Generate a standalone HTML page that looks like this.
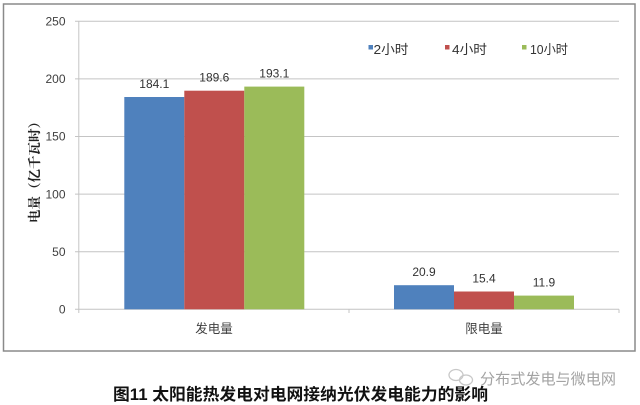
<!DOCTYPE html>
<html><head><meta charset="utf-8"><style>
html,body{margin:0;padding:0;background:#fff;}
svg{display:block;}
text{font-family:"Liberation Sans","Noto Sans CJK SC",sans-serif;}
</style></head><body>
<svg width="640" height="405" viewBox="0 0 640 405" xmlns="http://www.w3.org/2000/svg">
<rect x="0" y="0" width="640" height="405" fill="#fff"/>
<!-- frame -->
<rect x="3.5" y="4" width="631.5" height="347" fill="#fff" stroke="#8a8a8a" stroke-width="1.5"/>
<!-- gridlines -->
<g stroke="#c4c4c4" stroke-width="1">
<line x1="75" y1="21.3" x2="619" y2="21.3"/>
<line x1="75" y1="78.9" x2="619" y2="78.9"/>
<line x1="75" y1="136.5" x2="619" y2="136.5"/>
<line x1="75" y1="194.1" x2="619" y2="194.1"/>
<line x1="75" y1="251.7" x2="619" y2="251.7"/>
<line x1="75" y1="309.3" x2="619" y2="309.3"/>
<line x1="78.8" y1="21.3" x2="78.8" y2="313"/>
<line x1="349" y1="309.3" x2="349" y2="313"/>
<line x1="619" y1="309.3" x2="619" y2="313"/>
</g>
<!-- bars -->
<rect x="124.3" y="97.0" width="60" height="212.3" fill="#4F81BD"/>
<rect x="184.3" y="90.7" width="60" height="218.6" fill="#C0504D"/>
<rect x="244.3" y="86.6" width="60" height="222.7" fill="#9BBB59"/>
<rect x="394" y="285.2" width="60" height="24.1" fill="#4F81BD"/>
<rect x="454" y="291.5" width="60" height="17.8" fill="#C0504D"/>
<rect x="514" y="295.6" width="60" height="13.7" fill="#9BBB59"/>
<!-- data labels -->
<g font-size="12" fill="#333" text-anchor="middle">
<text x="154.3" y="88">184.1</text>
<text x="214.3" y="81.5">189.6</text>
<text x="274.3" y="77.5">193.1</text>
<text x="424" y="276">20.9</text>
<text x="484" y="282.5">15.4</text>
<text x="544" y="286.5">11.9</text>
</g>
<!-- y tick labels -->
<g font-size="12" fill="#404040" text-anchor="end">
<text x="65.5" y="25.5">250</text>
<text x="65.5" y="83.1">200</text>
<text x="65.5" y="140.7">150</text>
<text x="65.5" y="198.3">100</text>
<text x="65.5" y="255.9">50</text>
<text x="65.5" y="313.5">0</text>
</g>
<!-- y axis title -->
<text transform="translate(39,169) rotate(-90)" font-size="13" font-weight="bold" fill="#222" text-anchor="middle" textLength="108" lengthAdjust="spacingAndGlyphs" style="font-family:'Noto Serif CJK SC','Noto Sans CJK SC',serif">电量（亿千瓦时）</text>
<!-- category labels -->
<g font-size="12.5" fill="#404040" text-anchor="middle">
<text x="214" y="333">发电量</text>
<text x="484" y="333">限电量</text>
</g>
<!-- legend -->
<rect x="368.5" y="45" width="4.5" height="4.5" fill="#4F81BD"/>
<text x="373.5" y="54" font-size="13" fill="#333" textLength="35" lengthAdjust="spacingAndGlyphs">2小时</text>
<rect x="445" y="45" width="4.5" height="4.5" fill="#C0504D"/>
<text x="452" y="54" font-size="13" fill="#333" textLength="35" lengthAdjust="spacingAndGlyphs">4小时</text>
<rect x="522" y="45" width="4.5" height="4.5" fill="#9BBB59"/>
<text x="530" y="54" font-size="13" fill="#333" textLength="38" lengthAdjust="spacingAndGlyphs">10小时</text>
<!-- watermark -->
<g fill="none" stroke="#c8c8c8" stroke-width="1.3">
<ellipse cx="456" cy="375" rx="7" ry="5.5"/>
<ellipse cx="466" cy="380" rx="6.5" ry="5"/>
</g>
<text x="480" y="384" font-size="15" fill="#a3a3a3" textLength="136" lengthAdjust="spacingAndGlyphs">分布式发电与微电网</text>
<!-- caption -->
<text x="113" y="400" font-size="16.5" font-weight="bold" fill="#111" textLength="375" lengthAdjust="spacingAndGlyphs">图11 太阳能热发电对电网接纳光伏发电能力的影响</text>
</svg>
</body></html>
